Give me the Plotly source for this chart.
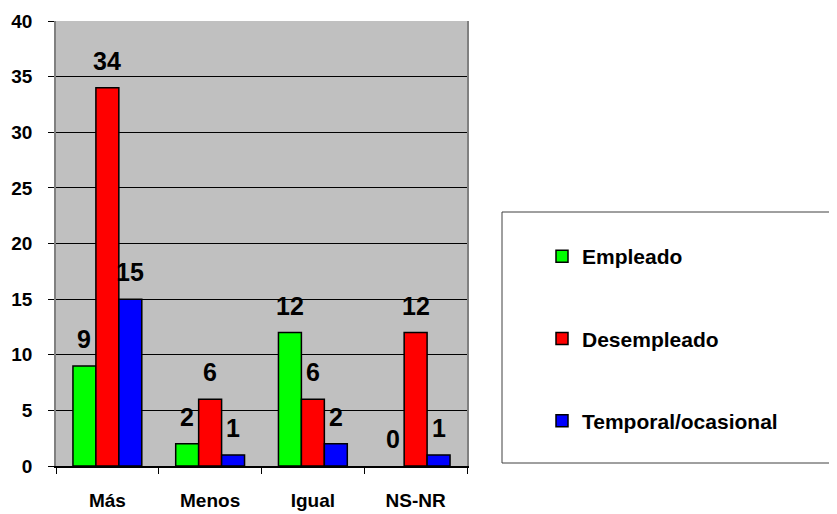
import plotly.graph_objects as go

categories = ["Más", "Menos", "Igual", "NS-NR"]
empleado = [9, 2, 12, 0]
desempleado = [34, 6, 6, 12]
temporal = [15, 1, 2, 1]
series_names = ["Empleado", "Desempleado", "Temporal/ocasional"]
series_colors = ["#00FF00", "#FF0000", "#0000FF"]
y_ticks = [0, 5, 10, 15, 20, 25, 30, 35, 40]

FONT = "Arial, Liberation Sans, sans-serif"
OFF = 8  # default page body margin
W, H = 837 - OFF, 514 - OFF
# plot area in page pixels
PX0, PX1, PY0, PY1 = 56, 467, 21, 466
L, R, T, B = PX0 - OFF, W - (PX1 - OFF), PY0 - OFF, H - (PY1 - OFF)
PW, PH = W - L - R, H - T - B

bargap = 0.33
bw = (1 - bargap) / 3

fig = go.Figure()
all_series = [empleado, desempleado, temporal]
for k, (name, vals, col) in enumerate(zip(series_names, all_series, series_colors)):
    fig.add_trace(go.Bar(
        x=list(range(len(categories))), y=vals, name=name,
        marker=dict(color=col,
                    line=dict(color="black", width=[1.5 if v > 0 else 0 for v in vals])),
        legendgroup=name,
    ))
    for i, v in enumerate(vals):
        fig.add_annotation(
            x=i + (k - 1) * bw, y=v, xref="x", yref="y",
            text=str(v), showarrow=False, yanchor="bottom", yshift=11,
            font=dict(family=FONT, size=25, color="black", weight="bold"),
        )

def px2paper_x(px):
    return (px - PX0) / PW

def px2paper_y(py):
    return (PY1 - py) / PH

fig.add_shape(type="rect", xref="paper", yref="paper",
              x0=px2paper_x(502), x1=px2paper_x(836.5),
              y0=px2paper_y(463), y1=px2paper_y(212),
              line=dict(color="#404040", width=1), fillcolor="rgba(0,0,0,0)")

fig.update_layout(
    width=W, height=H,
    margin=dict(l=L, r=R, t=T, b=B, autoexpand=False),
    paper_bgcolor="white", plot_bgcolor="#C0C0C0",
    barmode="group", bargap=bargap, bargroupgap=0,
    font=dict(family=FONT, color="black", weight="bold"),
    legend=dict(
        x=px2paper_x(542), y=px2paper_y(236), xanchor="left", yanchor="top",
        font=dict(family=FONT, size=21, color="black", weight="bold"),
        tracegroupgap=52, bgcolor="rgba(0,0,0,0)", itemwidth=30,
        traceorder="grouped",
    ),
    showlegend=True,
)
fig.update_xaxes(
    type="linear", range=[-0.5, 3.5],
    tickmode="array", tickvals=list(range(4)), ticktext=categories,
    ticks="", showgrid=False,
    tickfont=dict(family=FONT, size=19, color="black", weight="bold"),
    ticklabelstandoff=16,
    showline=True, linecolor="black", linewidth=1.5, mirror=False,
    zeroline=False,
)
fig.update_xaxes(minor=dict(tickmode="array", tickvals=[-0.5, 0.5, 1.5, 2.5, 3.5],
                            ticks="outside", ticklen=6, tickcolor="black", tickwidth=1,
                            showgrid=False))
fig.update_yaxes(
    range=[0, 40], tickmode="array", tickvals=y_ticks,
    ticks="outside", ticklen=6, tickcolor="black",
    tickfont=dict(family=FONT, size=19, color="black", weight="bold"),
    ticklabelstandoff=12,
    showgrid=True, gridcolor="black", gridwidth=1,
    showline=True, linecolor="#808080", linewidth=1.5, mirror=True,
    zeroline=False,
)

fig.write_html("out.html")
